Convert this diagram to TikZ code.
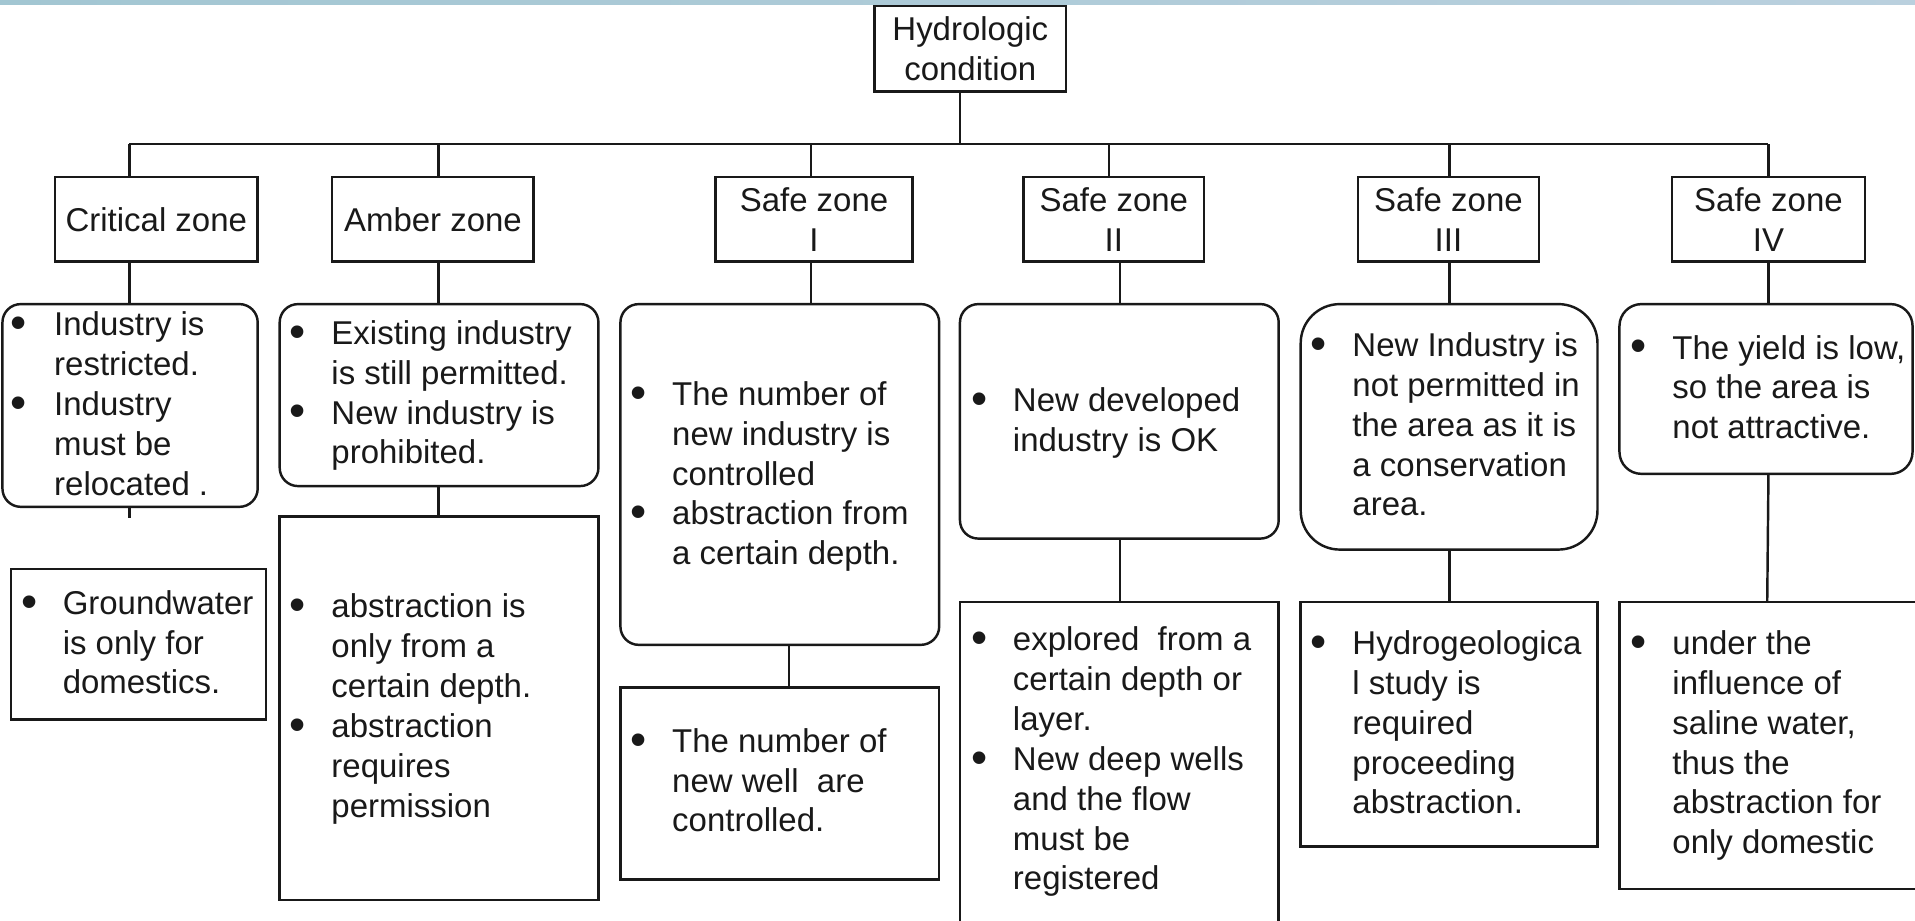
\documentclass[tikz,border=0pt]{standalone}
\usepackage{fontspec}
\setmainfont{Liberation Sans}
\newlength{\bulind}
\setlength{\bulind}{17pt}
\newcommand{\bmark}{\raisebox{-1.2pt}{\scalebox{1.4}{\textbullet}}}
\newcommand{\bu}[1]{\hbox{\makebox[\bulind][l]{\bmark}#1}}
\newcommand{\nb}[1]{\hbox{\hspace*{\bulind}#1}}
\newcommand{\blk}[1]{\vtop{\baselineskip=16.3pt\lineskip=0pt\lineskiplimit=-20pt #1}}
\definecolor{barA}{RGB}{162,198,210}
\definecolor{barB}{RGB}{186,208,222}
\definecolor{ink}{RGB}{25,25,25}
\begin{document}
\begin{tikzpicture}[x=0.5pt,y=-0.5pt,
  font=\fontsize{13.5pt}{16.3pt}\selectfont,
  sz/.style 2 args={minimum width=#1*0.5pt,minimum height=#2*0.5pt},
  box/.style={draw=ink,line width=1pt,inner sep=0pt,fill=white,align=center,text=ink},
  rbox/.style={box,rounded corners=7.5pt},
  txt/.style={inner sep=0pt,anchor=base west,text=ink},
  conn/.style={draw=ink,line width=1pt}]
\useasboundingbox (0,0) rectangle (1568,754);
\fill[left color=barA,right color=barB] (0,0) rectangle (1568,3.5);
% root
\node[box,sz={157}{70}] (root) at (794.5,40) {Hydrologic\\condition};
% zone boxes
\node[box,sz={166}{69}] (cz) at (128,179.5) {Critical zone};
\node[box,sz={165}{69}] (az) at (354.5,179.5) {Amber zone};
\node[box,sz={161}{69}] (s1) at (666.5,179.5) {Safe zone\\I};
\node[box,sz={148}{69}] (s2) at (912,179.5) {Safe zone\\II};
\node[box,sz={148}{69}] (s3) at (1186,179.5) {Safe zone\\III};
\node[box,sz={158}{69}] (s4) at (1448,179.5) {Safe zone\\IV};
% second row
\node[rbox,sz={209}{166}] (c2) at (106.5,332) {};
\node[rbox,sz={261}{149}] (a2) at (359.5,323.5) {};
\node[rbox,sz={261}{279}] (i2) at (638.5,388.5) {};
\node[rbox,sz={261}{192}] (ii2) at (916.5,345) {};
\node[box,rounded corners=16pt,sz={243}{201}] (iii2) at (1186.5,349.5) {};
\node[box,rounded corners=9pt,sz={240}{139}] (iv2) at (1446,318.5) {};
% third row
\node[box,sz={209}{123}] (c3) at (113.5,527.5) {};
\node[box,sz={261}{314}] (a3) at (359.5,580) {};
\node[box,sz={261}{157}] (i3) at (638.5,641.5) {};
\node[box,sz={261}{277}] (ii3) at (916.5,631.5) {};
\node[box,sz={243}{200}] (iii3) at (1186.5,593) {};
\node[box,sz={249}{235}] (iv3) at (1450.5,610.5) {};
% texts second row
\node[txt] (c2t) at (8,275) {\setlength{\bulind}{18pt}\blk{\bu{Industry is}\nb{restricted.}\bu{Industry}\nb{must be}\nb{relocated .}}};
\node[txt] (a2t) at (237,282) {\blk{\bu{Existing industry}\nb{is still permitted.}\bu{New industry is}\nb{prohibited.}}};
\node[txt] (i2t) at (516,332) {\blk{\bu{The number of}\nb{new industry is}\nb{controlled}\bu{abstraction from}\nb{a certain depth.}}};
\node[txt] (ii2t) at (795,337) {\blk{\bu{New developed}\nb{industry is OK}}};
\node[txt] (iii2t) at (1073,292) {\blk{\bu{New Industry is}\nb{not permitted in}\nb{the area as it is}\nb{a conservation}\nb{area.}}};
\node[txt] (iv2t) at (1335,294) {\blk{\bu{The yield is low,}\nb{so the area is}\nb{not attractive.}}};
% texts third row
\node[txt] (c3t) at (17,503) {\blk{\bu{Groundwater}\nb{is only for}\nb{domestics.}}};
\node[txt] (a3t) at (237,506) {\blk{\bu{abstraction is}\nb{only from a}\nb{certain depth.}\bu{abstraction}\nb{requires}\nb{permission}}};
\node[txt] (i3t) at (516,616) {\blk{\bu{The number of}\nb{new well~ are}\nb{controlled.}}};
\node[txt] (ii3t) at (795,533) {\blk{\bu{explored~ from a}\nb{certain depth or}\nb{layer.}\bu{New deep wells}\nb{and the flow}\nb{must be}\nb{registered}}};
\node[txt] (iii3t) at (1073,536) {\blk{\bu{Hydrogeologica}\nb{l study is}\nb{required}\nb{proceeding}\nb{abstraction.}}};
\node[txt] (iv3t) at (1335,536) {\blk{\bu{under the}\nb{influence of}\nb{saline water,}\nb{thus the}\nb{abstraction for}\nb{only domestic}}};
% connectors
\coordinate (b0) at (786,118);
\coordinate (b1) at (106,118);
\coordinate (b2) at (359,118);
\coordinate (b3) at (664,118);
\coordinate (b4) at (908,118);
\coordinate (b5) at (1187,118);
\coordinate (b6) at (1448,118);
\coordinate (k3) at (646,0);
\coordinate (k4) at (917,0);
\coordinate (k6) at (1447,0);
\coordinate (cst) at (106,424);
\draw[conn] (b0 |- root.south) -- (b0);
\draw[conn] (b1) -- (b6);
\draw[conn] (b1) -- (b1 |- cz.north);
\draw[conn] (b2) -- (b2 |- az.north);
\draw[conn] (b3) -- (b3 |- s1.north);
\draw[conn] (b4) -- (b4 |- s2.north);
\draw[conn] (b5) -- (b5 |- s3.north);
\draw[conn] (b6) -- (b6 |- s4.north);
\draw[conn] (b1 |- cz.south) -- (b1 |- c2.north);
\draw[conn] (b2 |- az.south) -- (b2 |- a2.north);
\draw[conn] (b3 |- s1.south) -- (b3 |- i2.north);
\draw[conn] (k4 |- s2.south) -- (k4 |- ii2.north);
\draw[conn] (b5 |- s3.south) -- (b5 |- iii2.north);
\draw[conn] (b6 |- s4.south) -- (b6 |- iv2.north);
\draw[conn] (cst |- c2.south) -- (cst);
\draw[conn] (b2 |- a2.south) -- (b2 |- a3.north);
\draw[conn] (k3 |- i2.south) -- (k3 |- i3.north);
\draw[conn] (k4 |- ii2.south) -- (k4 |- ii3.north);
\draw[conn] (b5 |- iii2.south) -- (b5 |- iii3.north);
\draw[conn] (b6 |- iv2.south) -- (k6 |- iv3.north);
\end{tikzpicture}
\end{document}
